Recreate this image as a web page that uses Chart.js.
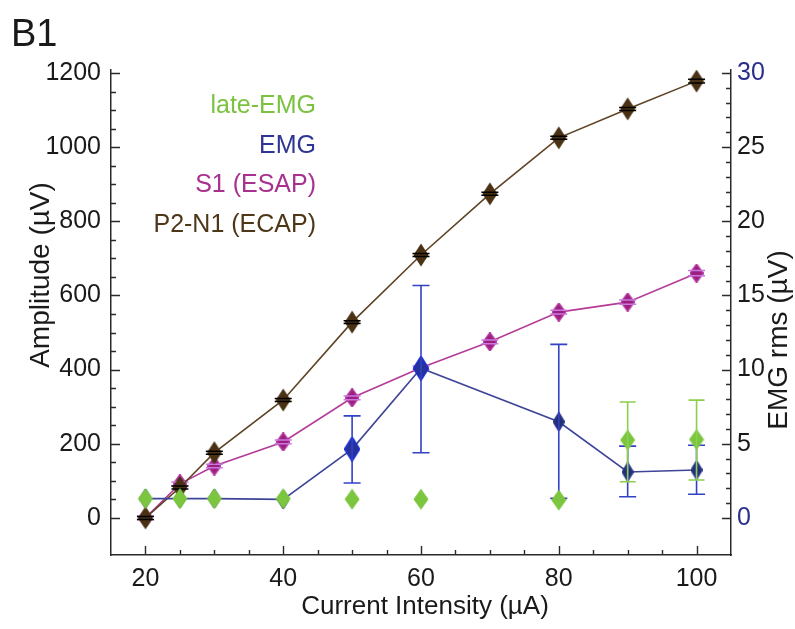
<!DOCTYPE html>
<html>
<head>
<meta charset="utf-8">
<script src="https://cdn.jsdelivr.net/npm/chart.js@4.4.1/dist/chart.umd.min.js"></script>
<style>
  html, body { margin: 0; padding: 0; background: #fff; }
  #wrap { width: 795px; height: 629px; }
</style>
</head>
<body>
<div id="wrap"><canvas id="c" width="795" height="629"></canvas></div>
<script>
'use strict';

// ─── Data ───────────────────────────────────────────────────────────────────
const CURRENT   = [20, 25, 30, 40, 50, 60, 70, 80, 90, 100];          // µA
const ECAP      = [0, 82, 176, 318, 528, 709, 874, 1025, 1103, 1178];  // P2-N1, µV
const ECAP_SEM  = [4, 4, 4, 4, 4, 4, 4, 4, 4, 5];
const ESAP      = [0, 92, 140, 205, 324, 405, 475, 555, 582, 660];     // S1, µV
const ESAP_SEM  = [5, 5, 5, 5, 5, 5, 5, 5, 6, 7];

const EMG_X     = [20, 25, 30, 40, 50, 60, 80, 90, 100];
const EMG_RMS   = [1.3, 1.3, 1.3, 1.25, 4.64, 10.09, 6.48, 3.1, 3.23];  // µV rms
const EMG_LO    = [null, null, null, null, 2.35, 4.39, 1.32, 1.43, 1.6];
const EMG_HI    = [null, null, null, null, 6.88, 15.67, 11.7, 4.84, 4.9];
const LATE_EMG  = [1.3, 1.3, 1.3, 1.3, 1.26, 1.26, 1.2, 5.25, 5.29];
const LATE_LO   = [null, null, null, null, null, null, null, 2.44, 2.56];
const LATE_HI   = [null, null, null, null, null, null, null, 7.82, 7.94];

const X_TICKS   = [20, 40, 60, 80, 100];
const Y_TICKS   = [0, 200, 400, 600, 800, 1000, 1200];
const Y1_TICKS  = [0, 5, 10, 15, 20, 25, 30];

const LEGEND = [
  { text: 'late-EMG',     color: '#7cc241' },
  { text: 'EMG',          color: '#2e3592' },
  { text: 'S1 (ESAP)',    color: '#a8318f' },
  { text: 'P2-N1 (ECAP)', color: '#4e3718' },
];

// ─── Styling ────────────────────────────────────────────────────────────────
const FONT  = '"Liberation Sans", Arial, Helvetica, sans-serif';
const AXIS  = '#2a2a2a';
const TEXT  = '#1a1a1a';
const NAVY  = '#2b2f8c';

// Elongated diamond marker as a canvas, used as pointStyle
function diamond(w, h, fill, stroke) {
  const c = document.createElement('canvas');
  c.width = w; c.height = h;
  const g = c.getContext('2d');
  g.beginPath();
  g.moveTo(w / 2, 0.5); g.lineTo(w - 0.5, h / 2);
  g.lineTo(w / 2, h - 0.5); g.lineTo(0.5, h / 2);
  g.closePath();
  g.fillStyle = fill; g.fill();
  if (stroke) { g.strokeStyle = stroke; g.lineWidth = 1.6; g.stroke(); }
  return c;
}

const MK_BROWN   = diamond(16, 24, '#4a3113');
const MK_MAGENTA = diamond(14, 19, '#9c1f80', '#b0339a');
const MK_GREEN   = diamond(16, 22, '#7cc63f');
const MK_NAVY    = diamond(12, 19, '#24306f', '#2a3590');
const MK_BLUE    = diamond(16, 25, '#26329a', '#1d2fd0');

const pts = (xs, ys) => xs.map((x, i) => ({ x, y: ys[i] }));

// ─── Plugins ────────────────────────────────────────────────────────────────
// error bars drawn right after their own dataset, so stacking matches the figure
const errorBars = {
  id: 'errorBars',
  afterDatasetDraw(chart, args) {
    const ds = chart.data.datasets[args.index];
    if (!ds.errLo) return;
    const ctx = chart.ctx;
    const ys = chart.scales[ds.yAxisID];
    ctx.save();
    ctx.strokeStyle = ds.errColor;
    ctx.lineWidth = ds.errWidth || 1.5;
    args.meta.data.forEach((pt, k) => {
      const lo = ds.errLo[k], hi = ds.errHi[k];
      if (lo === null || lo === undefined) return;
      const yl = ys.getPixelForValue(lo), yh = ys.getPixelForValue(hi);
      const cw = ds.capW / 2;
      ctx.beginPath();
      if (ds.errStem) { ctx.moveTo(pt.x, yl); ctx.lineTo(pt.x, yh); }
      ctx.moveTo(pt.x - cw, yl); ctx.lineTo(pt.x + cw, yl);
      ctx.moveTo(pt.x - cw, yh); ctx.lineTo(pt.x + cw, yh);
      ctx.stroke();
    });
    ctx.restore();
  },
};

// inward tick marks, like the original figure
const inTicks = {
  id: 'inTicks',
  afterDraw(chart) {
    const { ctx, chartArea: a, scales: { x, y, y1 } } = chart;
    ctx.save();
    ctx.strokeStyle = AXIS; ctx.lineWidth = 1.4;
    ctx.beginPath();
    for (let v = 20; v <= 100; v += 5) {
      const px = Math.round(x.getPixelForValue(v)) + 0.5;
      const L = v % 20 === 0 ? 9 : 5;
      ctx.moveTo(px, a.bottom); ctx.lineTo(px, a.bottom - L);
    }
    for (let v = 0; v <= 1200; v += 50) {
      const py = Math.round(y.getPixelForValue(v)) + 0.5;
      const L = v % 200 === 0 ? 9 : 5;
      ctx.moveTo(a.left, py); ctx.lineTo(a.left + L, py);
    }
    for (let v = 0; v <= 30; v += 1) {
      const py = Math.round(y1.getPixelForValue(v)) + 0.5;
      const L = v % 5 === 0 ? 9 : 5;
      ctx.moveTo(a.right, py); ctx.lineTo(a.right - L, py);
    }
    ctx.stroke();
    ctx.restore();
  },
};

const annotations = {
  id: 'annotations',
  afterDraw(chart) {
    const ctx = chart.ctx;
    ctx.save();
    // panel label
    ctx.fillStyle = TEXT;
    ctx.font = `38px ${FONT}`;
    ctx.textAlign = 'left'; ctx.textBaseline = 'alphabetic';
    ctx.fillText('B1', 11, 46);

    // legend (right-aligned text only)
    ctx.font = `25px ${FONT}`;
    ctx.textAlign = 'right';
    LEGEND.forEach((it, i) => {
      ctx.fillStyle = it.color;
      ctx.fillText(it.text, 316, 113 + i * 39.5);
    });

    // axis titles
    ctx.fillStyle = TEXT;
    ctx.textAlign = 'center'; ctx.textBaseline = 'middle';
    ctx.font = `26px ${FONT}`;
    ctx.fillText('Current Intensity (µA)', 425, 607);

    ctx.font = `28px ${FONT}`;
    ctx.save();
    ctx.translate(41, 275);
    ctx.rotate(-Math.PI / 2);
    ctx.fillText('Amplitude (µV)', 0, 0);
    ctx.restore();

    ctx.save();
    ctx.translate(779, 340);
    ctx.rotate(-Math.PI / 2);
    ctx.fillText('EMG rms (µV)', 0, 0);
    ctx.restore();
    ctx.restore();
  },
};

// ─── Chart ──────────────────────────────────────────────────────────────────
const plain = v => String(v);

new Chart(document.getElementById('c'), {
  type: 'line',
  data: {
    datasets: [
      {
        label: 'late-EMG',
        data: pts(EMG_X, LATE_EMG),
        yAxisID: 'y1',
        showLine: false,
        pointStyle: MK_GREEN, pointRadius: 8,
        errLo: LATE_LO, errHi: LATE_HI, errColor: '#8ccf4c', errStem: true, capW: 16, errWidth: 1.6,
      },
      {
        label: 'EMG',
        data: pts(EMG_X, EMG_RMS),
        yAxisID: 'y1',
        borderColor: '#3e4598', borderWidth: 1.6, tension: 0,
        pointStyle: [MK_NAVY, MK_NAVY, MK_NAVY, MK_NAVY, MK_BLUE, MK_BLUE, MK_NAVY, MK_NAVY, MK_NAVY],
        pointRadius: 8,
        errLo: EMG_LO, errHi: EMG_HI, errColor: '#3341c4', errStem: true, capW: 17, errWidth: 1.6,
      },
      {
        label: 'P2-N1 (ECAP)',
        data: pts(CURRENT, ECAP),
        yAxisID: 'y',
        borderColor: '#5e4324', borderWidth: 1.6, tension: 0,
        pointStyle: MK_BROWN, pointRadius: 8,
        errLo: ECAP.map((v, i) => v - ECAP_SEM[i]),
        errHi: ECAP.map((v, i) => v + ECAP_SEM[i]),
        errColor: '#000', errStem: false, capW: 17, errWidth: 1.5,
      },
      {
        label: 'S1 (ESAP)',
        data: pts(CURRENT, ESAP),
        yAxisID: 'y',
        borderColor: '#b43c98', borderWidth: 1.6, tension: 0,
        pointStyle: MK_MAGENTA, pointRadius: 8,
        errLo: ESAP.map((v, i) => v - ESAP_SEM[i]),
        errHi: ESAP.map((v, i) => v + ESAP_SEM[i]),
        errColor: '#c978e0', errStem: false, capW: 17, errWidth: 1.5,
      },
    ],
  },
  options: {
    responsive: false,
    animation: false,
    layout: { padding: { top: 70, left: 0, right: 0, bottom: 0 } },
    plugins: { legend: { display: false }, tooltip: { enabled: false } },
    scales: {
      x: {
        type: 'linear', min: 15, max: 105,
        afterBuildTicks: s => { s.ticks = X_TICKS.map(v => ({ value: v })); },
        afterFit: s => { s.height = 74; },
        grid: { display: false, drawTicks: false },
        border: { display: true, color: AXIS, width: 1.5 },
        ticks: { font: { family: FONT, size: 25 }, color: TEXT, padding: 9, maxRotation: 0, autoSkip: false, callback: plain },
      },
      y: {
        position: 'left', min: -100, max: 1208,
        afterBuildTicks: s => { s.ticks = Y_TICKS.map(v => ({ value: v })); },
        afterFit: s => { s.width = 111; },
        grid: { display: false, drawTicks: false },
        border: { display: true, color: AXIS, width: 1.5 },
        ticks: { font: { family: FONT, size: 25 }, color: TEXT, padding: 10, autoSkip: false, callback: plain },
      },
      y1: {
        position: 'right', min: -2.5, max: 30.2,
        afterBuildTicks: s => { s.ticks = Y1_TICKS.map(v => ({ value: v })); },
        afterFit: s => { s.width = 64; },
        grid: { display: false, drawTicks: false },
        border: { display: true, color: AXIS, width: 1.5 },
        ticks: {
          font: { family: FONT, size: 25 }, padding: 6, autoSkip: false, callback: plain,
          color: c => (c.tick && (c.tick.value === 0 || c.tick.value === 30)) ? NAVY : TEXT,
        },
      },
    },
  },
  plugins: [errorBars, inTicks, annotations],
});
</script>
</body>
</html>
